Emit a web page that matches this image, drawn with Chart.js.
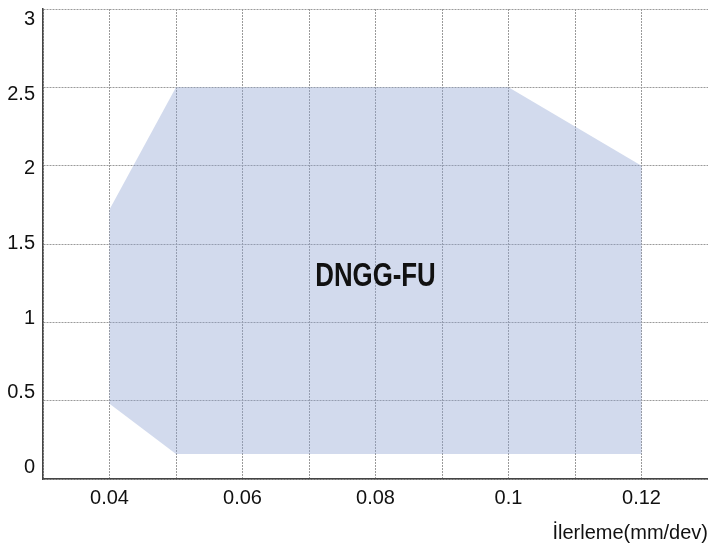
<!DOCTYPE html>
<html lang="tr">
<head>
    <meta charset="UTF-8">
    <title>DNGG-FU</title>
    <style>
        html, body { margin: 0; padding: 0; background: #fff; }
        canvas { display: block; }
    </style>
</head>
<body>
    <canvas id="chart" width="708" height="549"></canvas>

    <script src="https://cdn.jsdelivr.net/npm/chart.js"></script>
    <script>
        // working area outline, clockwise from the upper left corner
        const feedX  = [0.04, 0.05, 0.10, 0.12, 0.12, 0.05, 0.04, 0.04];
        const depthY = [1.72, 2.5, 2.5, 2.0, 0.16, 0.16, 0.48, 1.72];
        const xTickLabels = ['0.04', '0.06', '0.08', '0.1', '0.12'];
        const yTickLabels = ['0', '0.5', '1', '1.5', '2', '2.5', '3'];
        const areaName = 'DNGG-FU';
        const xTitle = 'İlerleme(mm/dev)';

        const points = feedX.map((x, i) => ({ x: x, y: depthY[i] }));

        const tickFont = { family: '"Liberation Sans", Arial, sans-serif', size: 20 };

        // label in the middle of the area (condensed bold look)
        const areaLabel = {
            id: 'areaLabel',
            afterDatasetsDraw(chart) {
                const ctx = chart.ctx;
                const px = chart.scales.x.getPixelForValue(0.08);
                const py = chart.scales.y.getPixelForValue(1.29);
                ctx.save();
                ctx.font = 'bold 34px "Liberation Sans", Arial, sans-serif';
                ctx.fillStyle = '#111';
                ctx.textAlign = 'center';
                ctx.textBaseline = 'middle';
                ctx.translate(px, py);
                ctx.scale(0.76, 1);
                ctx.fillText(areaName, 0, 0);
                ctx.restore();
            }
        };

        new Chart(document.getElementById('chart'), {
            type: 'scatter',
            data: {
                datasets: [{
                    data: points,
                    showLine: true,
                    fill: 'shape',
                    backgroundColor: 'rgba(143, 163, 210, 0.4)',
                    borderColor: 'rgba(0, 0, 0, 0)',
                    borderWidth: 0,
                    pointRadius: 0,
                    tension: 0
                }]
            },
            plugins: [areaLabel],
            options: {
                responsive: false,
                animation: false,
                layout: { padding: 0 },
                plugins: {
                    legend: { display: false },
                    tooltip: { enabled: false }
                },
                scales: {
                    x: {
                        type: 'linear',
                        min: 0.03,
                        max: 0.13,
                        grid: { color: '#9a9a9a', lineWidth: 1, drawTicks: false },
                        border: { display: true, color: '#444', width: 1.5, dash: [2, 1] },
                        ticks: {
                            stepSize: 0.01,
                            padding: 7,
                            color: '#111',
                            font: tickFont,
                            maxRotation: 0,
                            autoSkip: false,
                            callback: v => {
                                const s = (Math.round(v * 100) / 100).toString();
                                return xTickLabels.includes(s) ? s : '';
                            }
                        },
                        title: {
                            display: true,
                            text: xTitle,
                            align: 'end',
                            color: '#111',
                            padding: { top: 0, bottom: 4 },
                            font: tickFont
                        },
                        afterFit: s => {
                            s.height = 70;
                            s.paddingLeft = 0;
                            s.paddingRight = 0;
                        }
                    },
                    y: {
                        min: 0,
                        max: 3,
                        weight: 0,
                        grid: { color: '#9a9a9a', lineWidth: 1, drawTicks: false },
                        border: { display: true, color: '#444', width: 1.5, dash: [2, 1] },
                        ticks: { stepSize: 0.5, display: false },
                        afterFit: s => {
                            s.width = 0;
                            s.paddingTop = 9;
                            s.paddingBottom = 0;
                        }
                    },
                    // tick labels sit a little inside the gridlines, as in the source figure
                    yLab: {
                        type: 'linear',
                        axis: 'y',
                        position: 'left',
                        weight: 1,
                        min: -0.077,
                        max: 3.07,
                        grid: { display: false, drawTicks: false },
                        border: { display: false },
                        ticks: {
                            stepSize: 0.5,
                            includeBounds: false,
                            padding: 8,
                            color: '#111',
                            font: tickFont,
                            callback: v => {
                                const s = (Math.round(v * 10) / 10).toString();
                                return yTickLabels.includes(s) ? s : '';
                            }
                        },
                        afterFit: s => {
                            s.width = 43;
                            s.paddingTop = 0;
                            s.paddingBottom = 0;
                        }
                    }
                }
            }
        });
    </script>
</body>
</html>
